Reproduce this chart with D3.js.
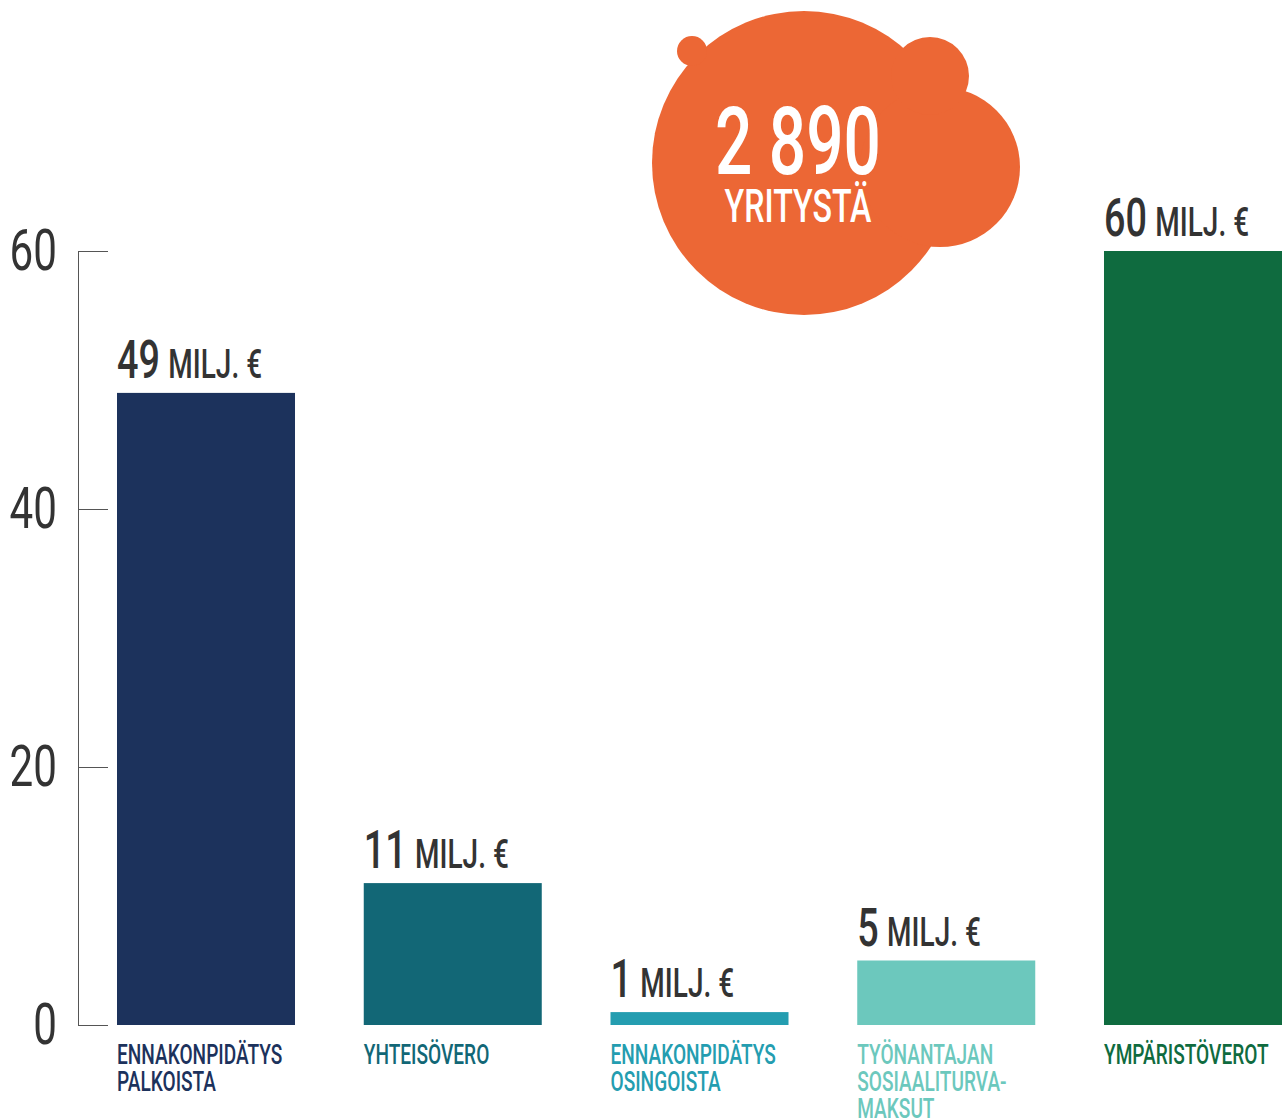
<!DOCTYPE html>
<html>
<head>
<meta charset="utf-8">
<script src="https://cdn.jsdelivr.net/npm/d3@7"></script>
<style>
  body { margin: 0; background: #fff; }
  text { font-family: Roboto, "Noto Sans", sans-serif; }
</style>
</head>
<body>
<div id="chart"></div>
<script>
// data
const categories = ['ENNAKONPIDÄTYS PALKOISTA', 'YHTEISÖVERO', 'ENNAKONPIDÄTYS OSINGOISTA', 'TYÖNANTAJAN SOSIAALITURVA-MAKSUT', 'YMPÄRISTÖVEROT'];
const labelLines = [['ENNAKONPIDÄTYS', 'PALKOISTA'], ['YHTEISÖVERO'], ['ENNAKONPIDÄTYS', 'OSINGOISTA'], ['TYÖNANTAJAN', 'SOSIAALITURVA-', 'MAKSUT'], ['YMPÄRISTÖVEROT']];
const values = [49, 11, 1, 5, 60];
const barColors = ['#1c325c', '#126776', '#249db0', '#6cc8bd', '#0f6b3f'];
const yTicks = [0, 20, 40, 60];
const unitLabel = 'MILJ. €';
const companyCount = '2 890';
const companyLabel = 'YRITYSTÄ';

const width = 1285, height = 1119;
const sx = 0.7; // 字体横向压缩，模拟窄体

const svg = d3.select('#chart').append('svg')
  .attr('width', width)
  .attr('height', height);

// 比例尺
const x = d3.scaleBand()
  .domain(categories)
  .range([117, 1282])
  .paddingInner(0.2786)
  .paddingOuter(0);

const y = d3.scaleLinear()
  .domain([0, 60])
  .range([1025, 251]);

// 橙色气泡
const bubble = svg.append('g').attr('fill', '#ec6735');
[[804, 163, 152], [940, 167, 80], [930, 76, 39], [692, 51, 15]].forEach(c => {
  bubble.append('circle').attr('cx', c[0]).attr('cy', c[1]).attr('r', c[2]);
});

function condensedText(parent, tx, ty, anchor, scale) {
  return parent.append('g')
    .attr('transform', `translate(${tx},${ty}) scale(${scale || sx},1)`)
    .append('text')
    .attr('text-anchor', anchor);
}

condensedText(svg, 798, 174, 'middle')
  .attr('fill', '#fff')
  .style('font-size', '94px')
  .style('font-weight', 500)
  .text(companyCount);

condensedText(svg, 798, 222, 'middle')
  .attr('fill', '#fff')
  .style('font-size', '46px')
  .style('font-weight', 500)
  .text(companyLabel);

// y轴
const yAxis = d3.axisLeft(y)
  .tickValues(yTicks)
  .tickSize(-30)
  .tickSizeOuter(0)
  .tickPadding(21);

const axisG = svg.append('g')
  .attr('transform', 'translate(78,0)')
  .call(yAxis);

axisG.select('.domain').attr('stroke', '#555').attr('stroke-width', 1);
axisG.selectAll('.tick line').attr('stroke', '#555').attr('stroke-width', 1);
axisG.selectAll('.tick text')
  .attr('fill', '#333')
  .attr('x', -21 / 0.74)
  .attr('transform', 'scale(0.74,1)')
  .style('font-size', '57px')
  .style('font-family', 'Roboto, sans-serif');

// 柱子
svg.append('g').selectAll('rect')
  .data(categories)
  .join('rect')
  .attr('x', d => x(d))
  .attr('y', (d, i) => y(values[i]))
  .attr('width', x.bandwidth())
  .attr('height', (d, i) => y(0) - y(values[i]))
  .attr('fill', (d, i) => barColors[i]);

// 数值标签
categories.forEach((c, i) => {
  const t = condensedText(svg, x(c), y(values[i]) - 15, 'start')
    .attr('fill', '#333');
  t.append('tspan')
    .style('font-size', '54px')
    .style('font-weight', 500)
    .text(values[i]);
  t.append('tspan')
    .attr('dx', 12)
    .style('font-size', '40px')
    .style('font-weight', 500)
    .text(unitLabel);
});

// 类别标签
categories.forEach((c, i) => {
  labelLines[i].forEach((line, j) => {
    condensedText(svg, x(c), 1064 + j * 27, 'start', 0.67)
      .attr('fill', barColors[i])
      .style('font-size', '28.5px')
      .style('font-weight', 500)
      .text(line);
  });
});
</script>
</body>
</html>
